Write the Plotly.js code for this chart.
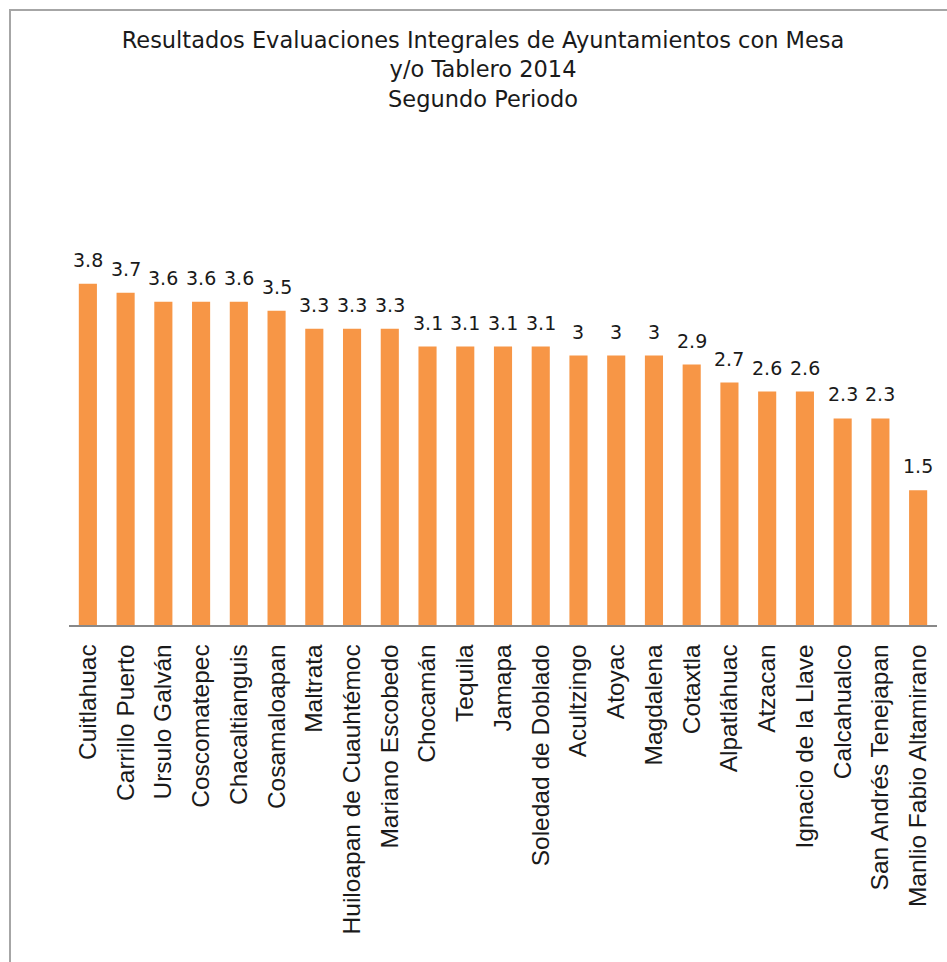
<!DOCTYPE html>
<html><head><meta charset="utf-8">
<script src="https://cdn.plot.ly/plotly-3.0.1.min.js"></script>
<style>body{margin:0;background:#fff}#c{width:947px;height:962px}</style>
</head><body><div id="c"></div>
<script>
const municipios = ["Cuitlahuac","Carrillo Puerto","Ursulo Galván","Coscomatepec","Chacaltianguis","Cosamaloapan","Maltrata","Huiloapan de Cuauhtémoc","Mariano Escobedo","Chocamán","Tequila","Jamapa","Soledad de Doblado","Acultzingo","Atoyac","Magdalena","Cotaxtla","Alpatláhuac","Atzacan","Ignacio de la Llave","Calcahualco","San Andrés Tenejapan","Manlio Fabio Altamirano"];
const resultados = [3.8,3.7,3.6,3.6,3.6,3.5,3.3,3.3,3.3,3.1,3.1,3.1,3.1,3,3,3,2.9,2.7,2.6,2.6,2.3,2.3,1.5];
const titulo = "Resultados Evaluaciones Integrales de Ayuntamientos con Mesa<br>y/o Tablero 2014<br>Segundo Periodo";

const trace = {
  type: 'bar', x: municipios, y: resultados,
  marker: {color: '#F79646'}, hoverinfo: 'none'
};
const etiquetas = municipios.map((m, i) => ({
  x: m, y: resultados[i], xref: 'x', yref: 'y', text: String(resultados[i]),
  showarrow: false, yanchor: 'bottom', yshift: 11,
  font: {family: 'DejaVu Sans, sans-serif', size: 19, color: '#1a1a1a'}
}));
const layout = {
  width: 947, height: 962,
  margin: {l: 69, r: 10, t: 176, b: 337},
  paper_bgcolor: '#fff', plot_bgcolor: '#fff',
  bargap: 0.52, showlegend: false,
  title: {text: titulo, x: 0.477, xanchor: 'center', xref: 'paper', y: 0.95, yref: 'container', yanchor: 'top',
    font: {family: 'DejaVu Sans, sans-serif', size: 22.5, color: '#1a1a1a'}},
  xaxis: {tickangle: -90, showline: true, linecolor: '#888', linewidth: 1.5, ticks: '', showgrid: false,
    ticklabelstandoff: 8,
    tickfont: {family: 'Liberation Sans, Arial, sans-serif', size: 24.5, color: '#1a1a1a'}},
  yaxis: {range: [0, 5], visible: false, showgrid: false, zeroline: false},
  annotations: etiquetas,
  shapes: [{type: 'rect', xref: 'paper', yref: 'paper',
    x0: -59/868, x1: 1 + 20/868, y0: -(337 + 20)/449, y1: 1 + (176 - 10)/449,
    line: {color: '#a6a6a6', width: 2}, fillcolor: 'rgba(0,0,0,0)'}]
};
Plotly.newPlot('c', [trace], layout, {displayModeBar: false, staticPlot: true});
</script></body></html>
